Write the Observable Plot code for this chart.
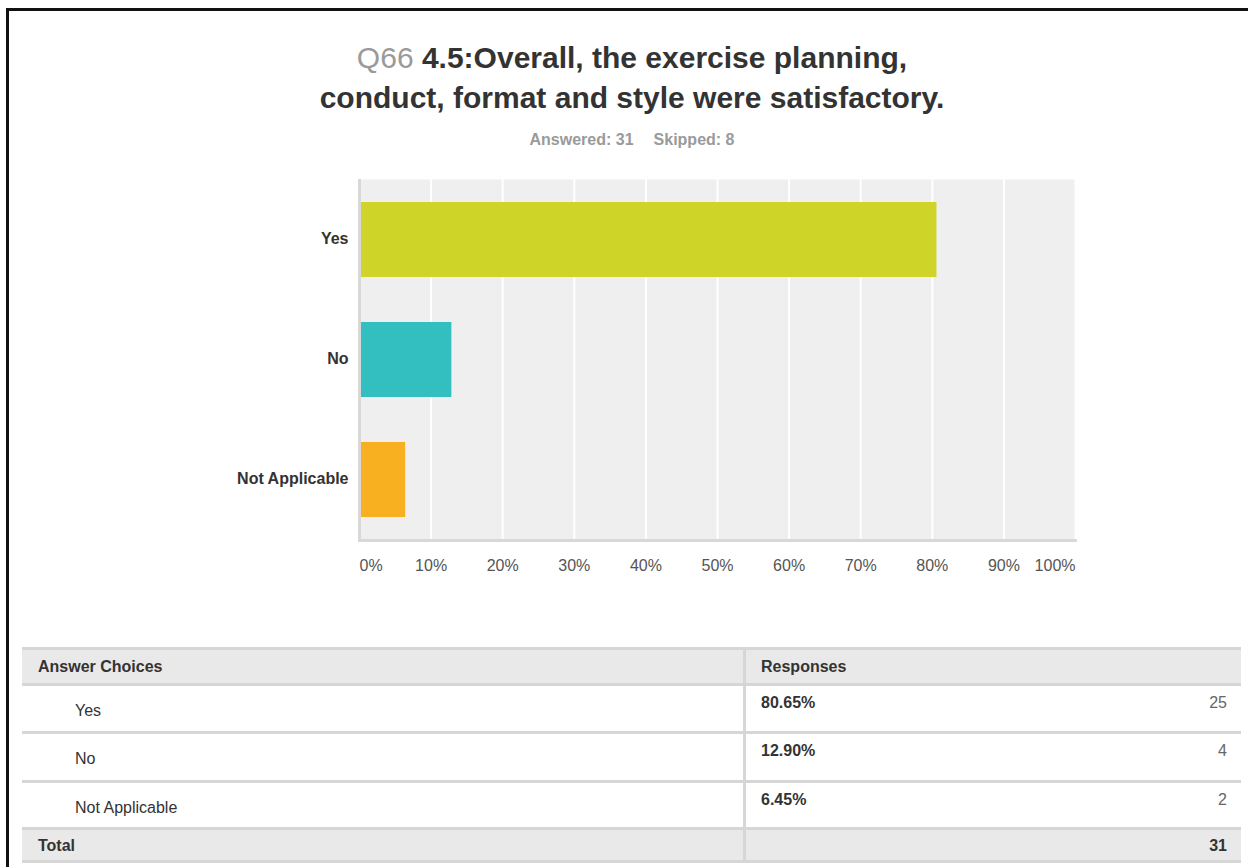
<!DOCTYPE html>
<html>
<head>
<meta charset="utf-8">
<script src="https://cdn.jsdelivr.net/npm/d3@7"></script>
<script src="https://cdn.jsdelivr.net/npm/@observablehq/plot@0.6"></script>
<style>
  html, body { margin: 0; padding: 0; background: #fff; }
  body { width: 1248px; height: 867px; position: relative; overflow: hidden;
         font-family: "Liberation Sans", Arial, Helvetica, sans-serif; }
  #frameTop { position: absolute; left: 6px; top: 8px; width: 1242px; height: 3px; background: #111; }
  #frameLeft { position: absolute; left: 6px; top: 8px; width: 3px; height: 859px; background: #111; }
  #title { position: absolute; left: 0; width: 1264px; top: 38px; text-align: center;
           font-size: 30px; font-weight: bold; line-height: 40px; color: #333; }
  #title .q { color: #9a9a9a; font-weight: normal; }
  #subtitle { position: absolute; left: 0; width: 1264px; top: 131px; text-align: center;
              font-size: 16px; font-weight: bold; color: #9a9a9a; }
  #subtitle span + span { margin-left: 20px; }
  #chart { position: absolute; left: 0; top: 160px; }
  #table { position: absolute; left: 22px; top: 647px; width: 1219px; }
  .row { position: relative; display: flex; border-top: 3px solid #d6d6d6; box-sizing: border-box; }
  .row.last { border-bottom: 3px solid #d6d6d6; }
  .row.shade { background: #e9e9e9; }
  .c1 { width: 721px; box-sizing: border-box; font-size: 16px; color: #333; }
  .c2 { flex: 1; border-left: 3px solid #d6d6d6; box-sizing: border-box; position: relative; font-size: 16px; color: #333; }
  .bold { font-weight: bold; }
  .num { position: absolute; right: 14px; color: #666; }
</style>
</head>
<body>
<div id="frameTop"></div>
<div id="frameLeft"></div>
<div id="title"></div>
<div id="subtitle"></div>
<div id="chart"></div>
<div id="table"></div>
<script>
const questionId = "Q66";
const questionText = ["4.5:Overall, the exercise planning,", "conduct, format and style were satisfactory."];
const answered = 31;
const skipped = 8;
const categories = ["Yes", "No", "Not Applicable"];
const percents = [80.65, 12.90, 6.45];
const counts = [25, 4, 2];
const barColors = ["#cfd428", "#33bec0", "#f8b020"];
const xTicks = [0, 10, 20, 30, 40, 50, 60, 70, 80, 90, 100];

// Title & subtitle
document.getElementById("title").innerHTML =
  `<span class="q">${questionId}</span> ${questionText[0]}<br>${questionText[1]}`;
document.getElementById("subtitle").innerHTML =
  `<span>Answered: ${answered}</span><span>Skipped: ${skipped}</span>`;

const data = categories.map((c, i) => ({cat: c, pct: percents[i]}));
const fmt = d => d + "%";

const chart = Plot.plot({
  width: 1248,
  height: 440,
  marginLeft: 359,
  marginRight: 173,
  marginTop: 19,
  marginBottom: 60,
  style: {fontFamily: '"Liberation Sans", Arial, Helvetica, sans-serif', background: "transparent"},
  x: {domain: [0, 100], axis: null},
  y: {domain: categories, paddingInner: 0.375, paddingOuter: 0.1875, axis: null},
  color: {domain: categories, range: barColors},
  marks: [
    Plot.frame({fill: "#efefef", stroke: "none"}),
    Plot.ruleX(xTicks.slice(1), {stroke: "#ffffff", strokeWidth: 2}),
    Plot.barX(data, {x: "pct", y: "cat", fill: "cat", insetTop: 0, insetBottom: 0}),
    Plot.ruleX([0], {stroke: "#d8d8d8", strokeWidth: 3}),
    Plot.frame({anchor: "bottom", stroke: "#d8d8d8", strokeWidth: 3}),
    Plot.text(categories, {x: 0, y: d => d, dx: -11, dy: -1, textAnchor: "end", text: d => d,
      fontSize: 16, fontWeight: "bold", fill: "#333"}),
    Plot.text(xTicks.filter(d => d === 0), {x: d => d, frameAnchor: "bottom", dy: 30, text: fmt,
      textAnchor: "start", fontSize: 16, fill: "#555"}),
    Plot.text(xTicks.filter(d => d > 0 && d < 100), {x: d => d, frameAnchor: "bottom", dy: 30, text: fmt,
      textAnchor: "middle", fontSize: 16, fill: "#555"}),
    Plot.text(xTicks.filter(d => d === 100), {x: d => d, frameAnchor: "bottom", dy: 30, text: fmt,
      textAnchor: "end", fontSize: 16, fill: "#555"})
  ]
});
document.getElementById("chart").appendChild(chart);

// Table
const table = document.getElementById("table");
const rowHeights = [36, 48, 49, 47];
let html = `<div class="row shade" style="height:${rowHeights[0]}px">
  <div class="c1 bold" style="padding:8px 0 0 16px">Answer Choices</div>
  <div class="c2 bold" style="padding:8px 0 0 15px">Responses</div></div>`;
categories.forEach((c, i) => {
  html += `<div class="row" style="height:${rowHeights[i + 1]}px">
    <div class="c1" style="padding:16px 0 0 53px">${c}</div>
    <div class="c2"><span class="bold" style="position:absolute;left:15px;top:8px">${percents[i].toFixed(2)}%</span>
    <span class="num" style="top:8px">${counts[i]}</span></div></div>`;
});
const total = counts.reduce((a, b) => a + b, 0);
html += `<div class="row shade last" style="height:36px">
  <div class="c1 bold" style="padding:7px 0 0 16px">Total</div>
  <div class="c2"><span class="num bold" style="top:7px;color:#333">${total}</span></div></div>`;
table.innerHTML = html;
</script>
</body>
</html>
